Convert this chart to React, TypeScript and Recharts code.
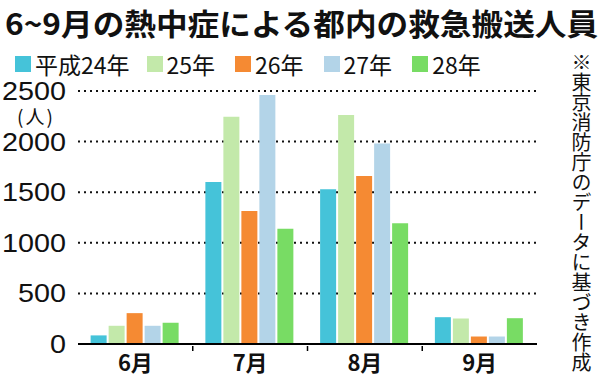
import React from "react";
import { BarChart, Bar, XAxis, YAxis, CartesianGrid, Legend } from "recharts";

const months = ["6月", "7月", "8月", "9月"];
const seriesNames = ["平成24年", "25年", "26年", "27年", "28年"];
const seriesColors = ["#45c3d9", "#c3e9aa", "#f58a33", "#b3d4e8", "#78dc64"];
const h24 = [85, 1600, 1530, 265];
const h25 = [180, 2245, 2262, 252];
const h26 = [305, 1315, 1661, 74];
const h27 = [180, 2460, 1982, 74];
const h28 = [210, 1140, 1193, 255];
const yTicks = [0, 500, 1000, 1500, 2000, 2500];

const W = 600;
const H = 378;
const MARGIN = { top: 91, right: 63, bottom: 0, left: 0 };
const X_HEIGHT = 34;
const Y_WIDTH = 78;
const FONT = '"Noto Sans CJK JP", "Noto Sans", sans-serif';

const data = months.map((m, i) => ({
  month: m,
  s0: h24[i],
  s1: h25[i],
  s2: h26[i],
  s3: h27[i],
  s4: h28[i],
}));

const bandWidth = (W - MARGIN.left - MARGIN.right - Y_WIDTH) / months.length;

function MonthTick(props: any) {
  const { x, y, payload, index } = props;
  return (
    <g>
      {index < months.length - 1 && (
        <line x1={x + bandWidth / 2} x2={x + bandWidth / 2} y1={y - 6} y2={y - 1} stroke="#000" strokeWidth={1.5} />
      )}
      <text x={x} y={y + 19} textAnchor="middle" fontSize={22} fontWeight={700} fill="#111" fontFamily={FONT}>
        {payload.value}
      </text>
    </g>
  );
}

function ValueTick(props: any) {
  const { x, y, payload } = props;
  const s = String(payload.value);
  return (
    <text
      x={x}
      y={y + 9}
      textAnchor="end"
      fontSize={25}
      fill="#111"
      fontFamily='"Liberation Sans", Arial, sans-serif'
      textLength={16 * s.length}
      lengthAdjust="spacingAndGlyphs"
    >
      {s}
    </text>
  );
}

function LegendContent() {
  return (
    <div style={{ display: "flex", alignItems: "center", fontFamily: FONT, fontSize: 23, color: "#111" }}>
      {seriesNames.map((n, i) => (
        <div key={n} style={{ display: "flex", alignItems: "center", marginRight: i === 0 ? 17 : 20 }}>
          <span style={{ width: 16, height: 16, background: seriesColors[i], display: "inline-block", marginRight: 4 }} />
          <span style={{ lineHeight: "24px" }}>{n}</span>
        </div>
      ))}
    </div>
  );
}

export default function App() {
  return (
    <div style={{ position: "absolute", left: 0, top: 0, width: W, height: H, background: "#fff", overflow: "hidden" }}>
      <div
        style={{
          position: "absolute",
          left: 5,
          top: 4,
          fontFamily: FONT,
          fontWeight: 700,
          fontSize: 30,
          lineHeight: "36px",
          color: "#111",
          whiteSpace: "nowrap",
          transform: "scaleX(1.055)",
          transformOrigin: "left center",
        }}
      >
        6~9月の熱中症による都内の救急搬送人員
      </div>
      <div
        style={{
          position: "absolute",
          left: 570,
          top: 52,
          writingMode: "vertical-rl",
          fontFamily: FONT,
          fontSize: 20,
          lineHeight: "22px",
          color: "#111",
        }}
      >
        ※東京消防庁のデータに基づき作成
      </div>
      <div
        style={{
          position: "absolute",
          left: 17,
          top: 106,
          fontFamily: FONT,
          fontSize: 19,
          letterSpacing: 2,
          lineHeight: "20px",
          color: "#111",
        }}
      >
        (人)
      </div>
      <BarChart
        width={W}
        height={H}
        data={data}
        margin={MARGIN}
        barCategoryGap="11%"
        barGap={2}
        style={{ position: "absolute", left: 0, top: 0 }}
      >
        <CartesianGrid vertical={false} stroke="#111" strokeWidth={2} strokeDasharray="2 4" />
        <XAxis
          dataKey="month"
          height={X_HEIGHT}
          axisLine={{ stroke: "#000", strokeWidth: 2 }}
          tickLine={false}
          tick={<MonthTick />}
          interval={0}
        />
        <YAxis
          width={Y_WIDTH}
          domain={[0, 2500]}
          ticks={yTicks}
          axisLine={false}
          tickLine={false}
          tickMargin={6}
          tick={<ValueTick />}
        />
        <Legend
          verticalAlign="middle"
          content={<LegendContent />}
          wrapperStyle={{ position: "absolute", top: 52, left: 15, width: 560 }}
        />
        {seriesNames.map((n, i) => (
          <Bar key={n} dataKey={`s${i}`} name={n} fill={seriesColors[i]} isAnimationActive={false} />
        ))}
      </BarChart>
    </div>
  );
}
